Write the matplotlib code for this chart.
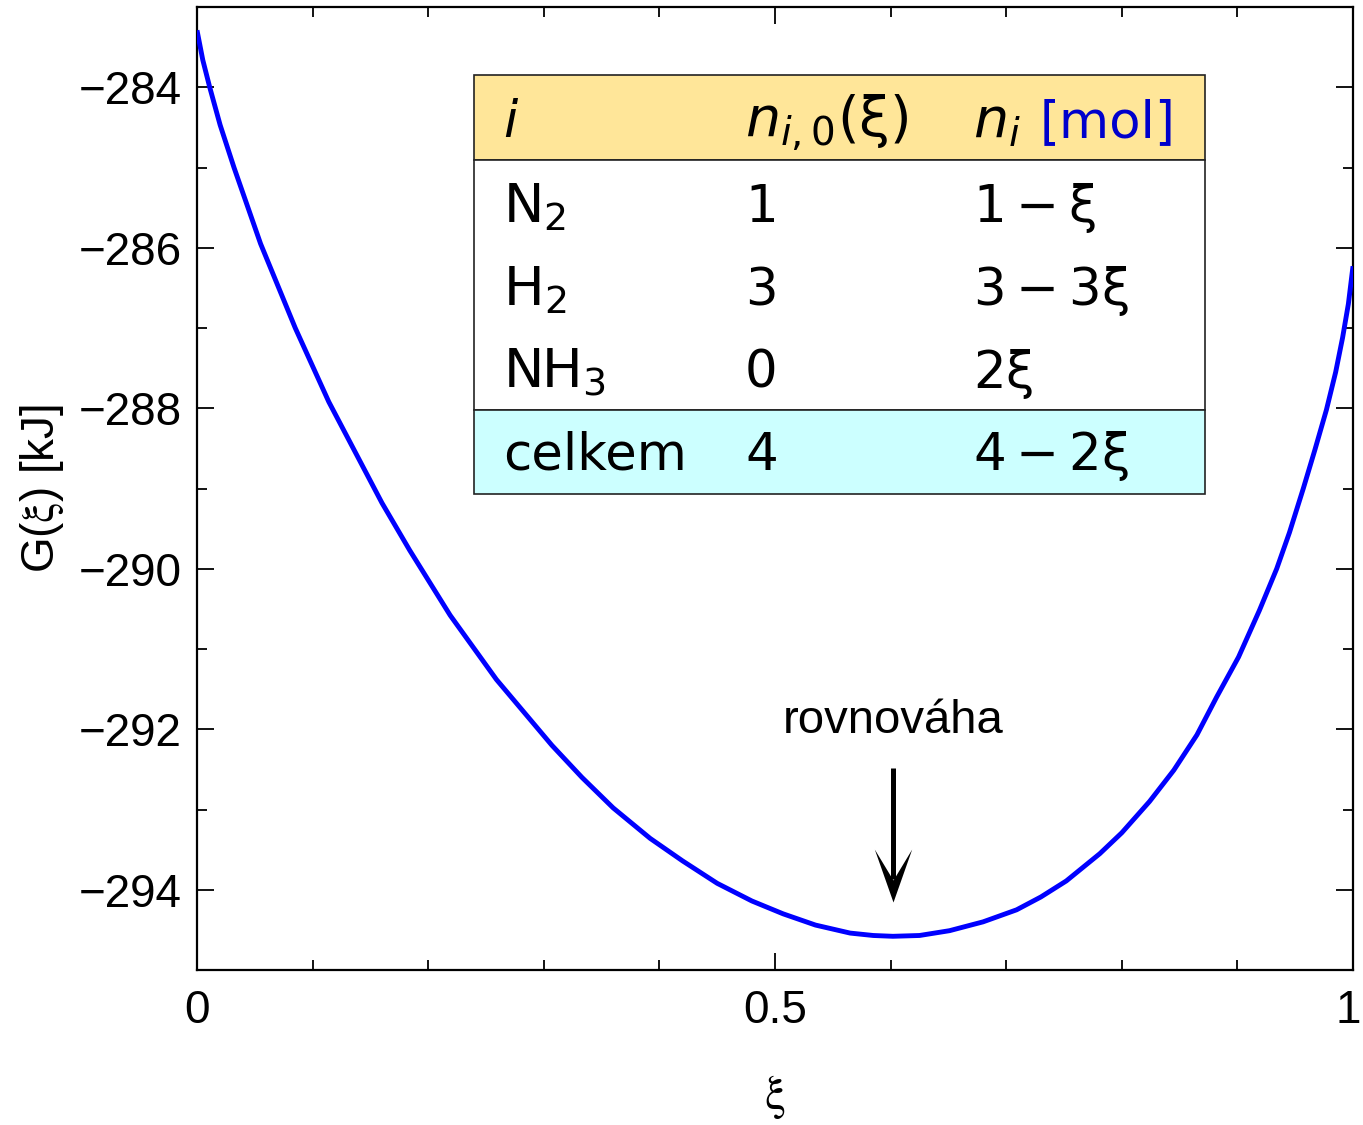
import numpy as np
import matplotlib
matplotlib.use("Agg")
import matplotlib.pyplot as plt
import matplotlib.transforms as mtransforms
from matplotlib.patches import Rectangle
from matplotlib.path import Path

# ---- data ----
xi = [0.000, 0.005, 0.011, 0.020, 0.032, 0.055, 0.085, 0.114, 0.137, 0.160,
      0.184, 0.219, 0.259, 0.307, 0.333, 0.360, 0.392, 0.420, 0.450, 0.480,
      0.507, 0.535, 0.565, 0.585, 0.602, 0.625, 0.651, 0.680, 0.709, 0.730,
      0.752, 0.781, 0.800, 0.824, 0.845, 0.865, 0.882, 0.901, 0.919, 0.934,
      0.945, 0.957, 0.967, 0.977, 0.985, 0.991, 0.996, 1.000]
G = [-283.29, -283.66, -284.00, -284.47, -285.00, -285.95, -287.00, -287.92, -288.55, -289.18,
     -289.77, -290.58, -291.38, -292.20, -292.60, -292.98, -293.36, -293.64, -293.92, -294.14,
     -294.30, -294.44, -294.54, -294.57, -294.58, -294.57, -294.51, -294.40, -294.25, -294.09,
     -293.89, -293.55, -293.29, -292.90, -292.51, -292.07, -291.60, -291.10, -290.52, -290.00,
     -289.55, -289.00, -288.52, -288.02, -287.55, -287.12, -286.70, -286.23]

yticks = [-284, -286, -288, -290, -292, -294]
xticks = [0, 0.5, 1]
xtick_labels = ["0", "0.5", "1"]

table_header = [r"$i$", r"$n_{i,0}(\mathrm{\xi})$", r"$n_i$"]
table_species = [r"$\mathrm{N}_2$", r"$\mathrm{H}_2$", r"$\mathrm{NH}_3$"]
table_n0 = ["1", "3", "0"]
table_n = [r"$1-\mathrm{\xi}$", r"$3-3\mathrm{\xi}$", r"$2\mathrm{\xi}$"]
total_label = "celkem"
total_n0 = "4"
total_n = r"$4-2\mathrm{\xi}$"
unit_label = "[mol]"
annot_text = "rovnováha"

# ---- figure ----
W, H = 1363, 1125
fig = plt.figure(figsize=(W / 100, H / 100), dpi=100)
L, R, T, B = 197, 1353, 7, 970
ax = fig.add_axes([L / W, 1 - B / H, (R - L) / W, (B - T) / H])

ax.plot(xi, G, color="#0000FF", lw=3.5, solid_capstyle="butt",
        solid_joinstyle="round", zorder=3)

ax.set_xlim(0, 1)
ax.set_ylim(-295, -283)

sans = "Liberation Sans"
ax.set_xticks(xticks)
ax.set_xticklabels(xtick_labels, fontfamily=sans, fontsize=33)
ax.set_xticks(np.arange(0.1, 1.0, 0.1), minor=True)
ax.set_yticks(yticks)
ax.set_yticklabels([f"\u2212{abs(v)}" for v in yticks], fontfamily=sans, fontsize=33)
ax.set_yticks(np.arange(-295, -282, 1), minor=True)

ax.tick_params(which="both", direction="in", top=True, right=True, width=1.3, color="black")
ax.tick_params(which="major", length=12)
ax.tick_params(which="minor", length=7)
ax.tick_params(axis="x", which="major", pad=14)
ax.tick_params(axis="y", which="major", pad=11)
for s in ax.spines.values():
    s.set_linewidth(1.6)

# keep the last x tick label just inside the figure edge
last_lbl = ax.get_xticklabels()[-1]
last_lbl.set_transform(last_lbl.get_transform() +
                       mtransforms.ScaledTranslation(-5 / 100, 0, fig.dpi_scale_trans))

ax.set_ylabel(r"G($\mathrm{\xi}$) [kJ]", fontfamily=sans, fontsize=33, math_fontfamily="stix")
ax.yaxis.set_label_coords(-0.113, 0.5)
ax.set_xlabel(r"$\mathrm{\xi}$", fontsize=34, math_fontfamily="stix")
ax.xaxis.set_label_coords(0.5, -0.107)

# ---- annotation arrow at the minimum ----
imin = int(np.argmin(G))
x_min, g_min = xi[imin], G[imin]
tip_y = g_min + 0.43
ax.plot([x_min, x_min], [g_min + 2.10, g_min + 0.72], color="black", lw=3.6,
        solid_capstyle="butt", zorder=4)
head = Path([(0, 0), (18.7, 53), (0, 22), (-18.7, 53), (0, 0)],
            [Path.MOVETO, Path.LINETO, Path.LINETO, Path.LINETO, Path.CLOSEPOLY])
ax.plot([x_min], [tip_y], marker=head, markersize=76.3, color="black",
        markeredgewidth=0, zorder=4)
ax.text(x_min, g_min + 2.535, annot_text, ha="center", va="baseline",
        fontfamily=sans, fontsize=34)

# ---- table (axes coordinates) ----
def ax_x(px):
    return (px - L) / (R - L)

def ax_y(py):
    return (B - py) / (B - T)

tx0, tx1 = ax_x(474), ax_x(1205)
ty_top, ty_head, ty_tot, ty_bot = ax_y(75), ax_y(160), ax_y(410), ax_y(494)
tr = ax.transAxes
ax.add_patch(Rectangle((tx0, ty_head), tx1 - tx0, ty_top - ty_head, transform=tr,
                       facecolor="#FFE699", edgecolor="#222222", lw=1.2, zorder=5))
ax.add_patch(Rectangle((tx0, ty_tot), tx1 - tx0, ty_head - ty_tot, transform=tr,
                       facecolor="white", edgecolor="#222222", lw=1.2, zorder=5))
ax.add_patch(Rectangle((tx0, ty_bot), tx1 - tx0, ty_tot - ty_bot, transform=tr,
                       facecolor="#CCFFFF", edgecolor="#222222", lw=1.2, zorder=5))

col_x = [ax_x(503), ax_x(745), ax_x(973)]
fs_t = 37
tkw = dict(transform=tr, fontsize=fs_t, va="baseline", ha="left", zorder=6,
           fontfamily="DejaVu Sans", math_fontfamily="dejavusans")

head_base = ax_y(137)
ax.text(col_x[0], head_base, table_header[0], **tkw)
ax.text(col_x[1], head_base, table_header[1], **{**tkw, "fontsize": 40})
ax.text(col_x[2], head_base, table_header[2], **{**tkw, "fontsize": 40})
ax.text(ax_x(1040), head_base, unit_label, color="#0000CC", **tkw)

row_base = [ax_y(222), ax_y(305), ax_y(388)]
for yb, sp, n0, n in zip(row_base, table_species, table_n0, table_n):
    ax.text(col_x[0], yb, sp, **{**tkw, "fontsize": 39})
    ax.text(col_x[1], yb, n0, **tkw)
    ax.text(col_x[2], yb, n, **tkw)

tot_base = ax_y(470)
ax.text(col_x[0], tot_base, total_label, **tkw)
ax.text(col_x[1], tot_base, total_n0, **tkw)
ax.text(col_x[2], tot_base, total_n, **tkw)

fig.savefig("out.png", dpi=100)
